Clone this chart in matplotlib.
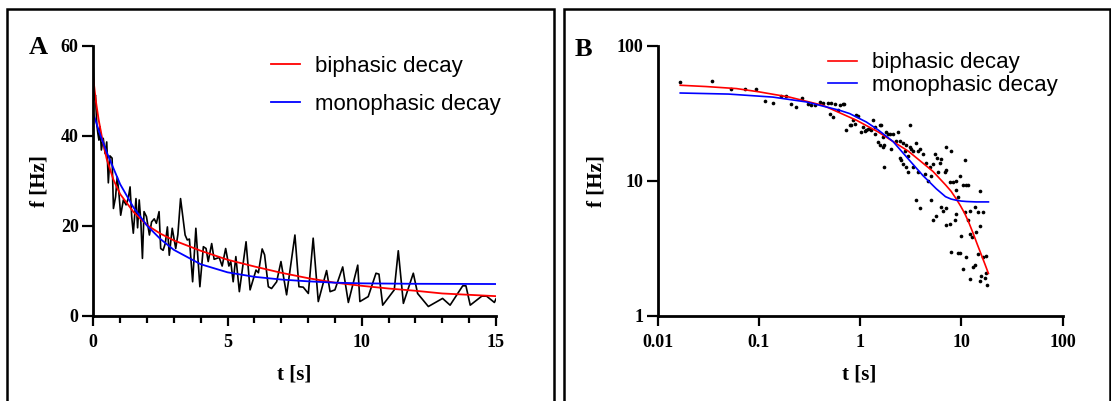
import matplotlib.pyplot as plt
from matplotlib.patches import Rectangle
from matplotlib.ticker import NullLocator, MultipleLocator

# ---- panel A: instantaneous frequency over time (linear axes) ----
trace_t = [0.00, 0.04, 0.08, 0.13, 0.17, 0.21, 0.25, 0.30, 0.37, 0.44, 0.50, 0.56,
           0.62, 0.70, 0.75, 0.83, 0.89, 0.95, 1.02, 1.12, 1.22, 1.30, 1.37, 1.43,
           1.49, 1.59, 1.65, 1.71, 1.77, 1.83, 1.89, 1.98, 2.09, 2.17, 2.27, 2.35,
           2.45, 2.51, 2.60, 2.68, 2.76, 2.83, 2.94, 3.07, 3.15, 3.25, 3.42, 3.50,
           3.58, 3.70, 3.82, 3.97, 4.10, 4.20, 4.28, 4.41, 4.50, 4.69, 4.80, 4.93,
           5.05, 5.12, 5.21, 5.31, 5.44, 5.69, 5.84, 6.06, 6.15, 6.29, 6.38, 6.52,
           6.64, 6.83, 6.99, 7.20, 7.51, 7.66, 7.82, 8.01, 8.19, 8.38, 8.69, 8.82,
           9.00, 9.29, 9.50, 9.85, 9.93, 10.24, 10.53, 10.64, 10.78, 11.21, 11.36,
           11.55, 11.92, 12.08, 12.48, 13.01, 13.29, 13.76, 13.88, 14.04, 14.47,
           14.65, 14.94, 15.00]
trace_f = [55.0, 48.0, 49.0, 42.5, 40.5, 39.0, 42.0, 36.8, 39.4, 36.0, 38.6, 29.5,
           35.5, 35.0, 23.8, 26.4, 30.8, 27.5, 22.3, 25.7, 24.6, 26.0, 28.6, 22.0,
           18.3, 26.0, 19.5, 25.7, 21.0, 12.7, 23.1, 22.0, 17.9, 20.8, 21.5, 20.5,
           23.1, 14.9, 14.5, 16.0, 19.7, 13.4, 19.4, 14.9, 18.0, 26.0, 17.9, 16.8,
           17.0, 7.5, 19.4, 6.4, 15.3, 14.9, 12.0, 16.0, 12.5, 12.9, 11.0, 14.9,
           11.0, 12.0, 7.5, 13.1, 5.3, 16.4, 5.7, 10.1, 9.5, 14.8, 13.5, 6.4,
           6.0, 7.5, 12.0, 4.6, 17.9, 6.4, 6.3, 4.9, 17.2, 3.1, 10.0, 5.3,
           5.7, 10.8, 2.9, 11.2, 3.1, 4.2, 9.4, 9.2, 2.3, 5.7, 14.4,
           2.7, 9.4, 4.9, 2.0, 3.8, 2.3, 6.6, 6.6, 2.3, 4.3,
           4.3, 2.9, 3.7]

biphasic_a_t = [0, 0.1, 0.2, 0.35, 0.5, 0.75, 1.0, 1.5, 2.0, 2.5, 3.0, 4.0,
                5.0, 6.0, 7.0, 8.0, 9.0, 10, 11, 12, 13, 14, 15]
biphasic_a_f = [52.7, 47.5, 43.5, 38.8, 34.8, 30.2, 27.0, 23.0, 20.1, 18.2, 16.7, 14.4,
                12.4, 10.9, 9.5, 8.3, 7.3, 6.6, 6.0, 5.5, 4.9, 4.6, 4.3]

monophasic_a_t = [0, 0.25, 0.5, 1.0, 1.5, 2.0, 2.5, 3.0, 4.0, 5.0, 6.0, 7.0,
                  8.0, 9.0, 10, 12, 15]
monophasic_a_f = [44.9, 40.3, 36.3, 29.2, 24.0, 20.0, 17.0, 14.6, 11.4, 9.6, 8.6, 8.0,
                  7.6, 7.3, 7.15, 7.05, 7.0]

# ---- panel B: same kind of data on log-log axes ----
scatter_t = [0.0167, 0.0347, 0.0525, 0.0722, 0.0927, 0.114, 0.137, 0.166, 0.187, 0.209,
             0.234, 0.266, 0.305, 0.33, 0.355,
             0.398, 0.43, 0.48, 0.52, 0.56, 0.63, 0.68, 0.69, 0.50, 0.54, 0.60, 0.73,
             0.79, 0.82, 0.85, 0.92, 0.95, 0.89, 1.03, 1.07, 1.11, 1.15, 1.19, 1.24,
             1.29, 1.34, 1.39, 1.39, 1.56, 1.62, 1.68, 1.50, 1.56, 1.68, 1.74, 1.81,
             1.88, 1.74,
             1.96, 2.11, 2.37, 2.03, 2.28, 2.46, 2.65, 2.86, 2.75, 2.96, 3.32, 3.08,
             3.20, 3.58, 3.87, 3.72, 3.13, 2.46, 2.55, 2.65, 2.86, 2.96, 3.32, 3.72,
             4.17, 4.50, 4.86, 5.24, 5.44, 5.74, 6.11, 6.35, 4.33, 4.68, 5.05, 5.88,
             6.84, 7.10, 6.97, 7.95, 10.8, 7.66, 8.26, 8.92, 9.62, 8.92, 9.27, 11.2,
             10.4, 11.6, 15.2, 3.58, 3.87, 5.05, 6.35, 6.60, 7.10, 5.65, 5.24, 6.97,
             7.66, 8.59, 8.92, 10.8, 12.1, 13.6, 14.6, 16.5, 11.6, 10.0, 12.1, 14.1,
             15.2, 7.95, 9.27, 9.62, 11.2, 12.6, 14.6, 16.5, 17.7, 13.6, 13.1, 10.4,
             15.8, 15.2, 12.1, 17.1, 17.7, 18.1]
scatter_f = [53.8, 54.3, 47.5, 47.5, 48.1, 38.9, 37.6, 42.4, 42.4, 37.2,
             35.1, 41.2, 37.2, 36.1, 36.6,
             38.3, 37.6, 37.9, 37.6, 37.2, 36.5, 36.7, 37.2, 31.4, 29.5, 33.6, 23.6,
             25.8, 25.8, 28.0, 30.5, 30.0, 26.5, 23.0, 25.0, 23.3, 23.9, 24.3, 24.3,
             23.6, 28.0, 25.0, 22.3, 25.8, 25.8, 21.0, 19.4, 18.4, 17.8, 18.4, 23.0,
             22.3, 12.6,
             22.3, 22.3, 23.0, 17.2, 19.5, 19.5, 18.9, 18.4, 16.7, 15.3, 16.7, 17.8,
             17.2, 18.9, 17.2, 16.7, 25.8, 14.8, 14.1, 13.2, 12.6, 11.6, 12.6, 11.6,
             15.7, 13.6, 12.6, 13.3, 15.7, 14.8, 13.6, 14.5, 11.2, 10.0, 10.9, 11.6,
             11.6, 11.9, 17.8, 16.7, 14.1, 9.7, 9.7, 10.0, 10.9, 8.46, 7.5, 9.2,
             9.2, 9.2, 8.4, 7.13, 6.3, 7.2, 6.4, 6.0, 6.3, 5.5, 5.1, 4.65,
             4.8, 5.1, 5.7, 5.85, 6.0, 6.4, 5.85, 5.85, 5.1, 3.9, 4.0, 4.15,
             4.6, 2.95, 2.9, 2.9, 2.7, 3.8, 2.85, 2.7, 2.75, 2.35, 2.3, 2.2,
             1.95, 1.8, 1.85, 1.9, 2.05, 1.67]

biphasic_b_t = [0.0167, 0.03, 0.06, 0.1, 0.2, 0.43, 0.92, 1.5, 2.11, 3.0, 3.58,
                5.24, 6.97, 7.9, 8.92, 9.8, 10.8, 11.9, 13.1, 14.4, 15.8, 17.1, 18.5]
biphasic_b_f = [50.9, 49.8, 48.1, 45.5, 41.6, 36.1, 28.0, 23.0, 19.5, 16.5, 14.8,
                11.7, 9.3, 8.35, 7.3, 6.5, 5.7, 4.85, 4.05, 3.35, 2.8, 2.4, 2.05]

monophasic_b_t = [0.0167, 0.05, 0.137, 0.294, 0.627, 0.787, 1.15, 1.5, 2.11, 3.08,
                  4.17, 5.65, 6.97, 7.9, 8.92, 10.0, 11.2, 14.0, 18.5]
monophasic_b_f = [44.6, 43.8, 41.6, 38.3, 33.2, 31.4, 27.2, 23.8, 19.5, 14.1,
                  10.9, 8.7, 7.6, 7.3, 7.15, 7.05, 7.0, 6.95, 6.95]

plt.rcParams['font.family'] = ['Liberation Serif', 'DejaVu Serif']
plt.rcParams['font.weight'] = 'bold'
plt.rcParams['axes.labelweight'] = 'bold'

W, H = 1111, 401
fig = plt.figure(figsize=(W / 100, H / 100), dpi=100)

# frames around the two panels
for x0, x1 in [(7, 554), (563.5, 1110)]:
    fig.add_artist(Rectangle((x0 / W, -0.1), (x1 - x0) / W, 1 - 9.3 / H + 0.1,
                             fill=False, lw=1.8, ec='black',
                             transform=fig.transFigure))

axA = fig.add_axes([93.3 / W, (H - 315.5) / H, 402.7 / W, 269.8 / H])
axB = fig.add_axes([657.7 / W, (H - 315.5) / H, 404.9 / W, 269.8 / H])

legend_font = {'family': 'Liberation Sans', 'size': 16, 'weight': 'normal'}


def style(ax):
    for s in ['top', 'right']:
        ax.spines[s].set_visible(False)
    for s in ['left', 'bottom']:
        ax.spines[s].set_linewidth(2.0)
    ax.tick_params(which='major', width=1.6, labelsize=13)
    ax.tick_params(axis='x', which='major', length=7.2, pad=6)
    ax.tick_params(axis='y', which='major', length=8, pad=2.5)
    ax.tick_params(which='minor', width=1.6, length=4.8)


# Panel A
axA.plot(trace_t, trace_f, color='black', lw=1.2)
axA.plot(biphasic_a_t, biphasic_a_f, color='red', lw=1.3, label='biphasic decay')
axA.plot(monophasic_a_t, monophasic_a_f, color='blue', lw=1.3, label='monophasic decay')
axA.set_xlim(0, 15)
axA.set_ylim(0, 60)
axA.set_xticks([0, 5, 10, 15])
axA.xaxis.set_minor_locator(MultipleLocator(1))
axA.set_yticks([0, 20, 40, 60])
style(axA)
axA.set_xlabel('t [s]', fontsize=15, va='center')
axA.xaxis.set_label_coords(0.499, -0.2205)
axA.set_ylabel('f [Hz]', fontsize=15, va='center')
axA.yaxis.set_label_coords(-0.134, 0.5)
axA.legend(loc='upper left', bbox_to_anchor=(0.441, 0.962), frameon=False,
           prop=legend_font, handlelength=1.3, handletextpad=0.7,
           labelspacing=0.75, borderpad=0, borderaxespad=0)

# Panel B
axB.scatter(scatter_t, scatter_f, s=7, color='black', linewidths=0, zorder=3)
axB.plot(biphasic_b_t, biphasic_b_f, color='red', lw=1.2, label='biphasic decay', zorder=4)
axB.plot(monophasic_b_t, monophasic_b_f, color='blue', lw=1.2, label='monophasic decay', zorder=4)
axB.set_xscale('log')
axB.set_yscale('log')
axB.set_xlim(0.01, 100)
axB.set_ylim(1, 100)
axB.set_xticks([0.01, 0.1, 1, 10, 100], labels=['0.01', '0.1', '1', '10', '100'])
axB.set_yticks([1, 10, 100], labels=['1', '10', '100'])
axB.xaxis.set_minor_locator(NullLocator())
axB.yaxis.set_minor_locator(NullLocator())
style(axB)
axB.set_xlabel('t [s]', fontsize=15, va='center')
axB.xaxis.set_label_coords(0.498, -0.2205)
axB.set_ylabel('f [Hz]', fontsize=15, va='center')
axB.yaxis.set_label_coords(-0.151, 0.5)
axB.legend(loc='upper left', bbox_to_anchor=(0.4206, 0.975), frameon=False,
           prop=legend_font, handlelength=1.3, handletextpad=0.7,
           labelspacing=0.05, borderpad=0, borderaxespad=0)

# panel letters
fig.text(38 / W, 1 - 48 / H, 'A', fontsize=19, fontweight='bold', ha='center', va='center')
fig.text(583 / W, 1 - 50 / H, 'B', fontsize=19, fontweight='bold', ha='center', va='center')

fig.savefig('out.png', dpi=100)
